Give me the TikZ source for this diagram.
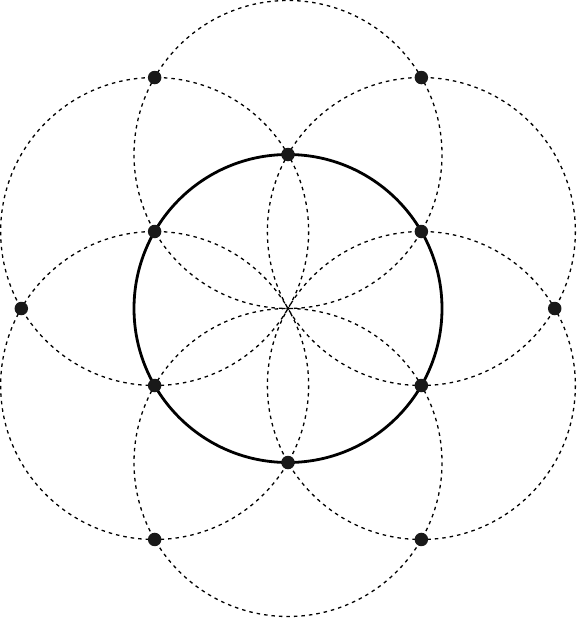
\documentclass[tikz,border=0pt]{standalone}
\usetikzlibrary{calc}
\begin{document}
\begin{tikzpicture}[x=1pt,y=-1pt,
  dashcircle/.style={line width=1.3pt,dash pattern=on 3.5pt off 4pt},
  maincircle/.style={line width=2.8pt},
  dot/.style={circle,fill=black!90,inner sep=0pt,minimum size=13.5pt}]
\useasboundingbox (0,0) rectangle (577,618);
\coordinate (O) at (288,308.5);
\def\R{154}
% inner points (on the main circle) and outer points
\foreach \a/\n in {90/i1,30/i2,-30/i3,-90/i4,-150/i5,150/i6}{
  \coordinate (\n) at ($(O)+(\a:\R)$);
}
\foreach \a/\n in {60/o1,0/o2,-60/o3,-120/o4,180/o5,120/o6}{
  \coordinate (\n) at ($(O)+(\a:266.7)$);
}
% dashed circles centred on the inner points
\foreach \n in {i1,i2,i3,i4,i5,i6}{
  \draw[dashcircle] (\n) circle[radius=\R];
}
% main circle
\draw[maincircle] (O) circle[radius=\R];
% dots
\foreach \n in {i1,i2,i3,i4,i5,i6,o1,o2,o3,o4,o5,o6}{
  \node[dot] (d\n) at (\n) {};
}
\end{tikzpicture}
\end{document}
